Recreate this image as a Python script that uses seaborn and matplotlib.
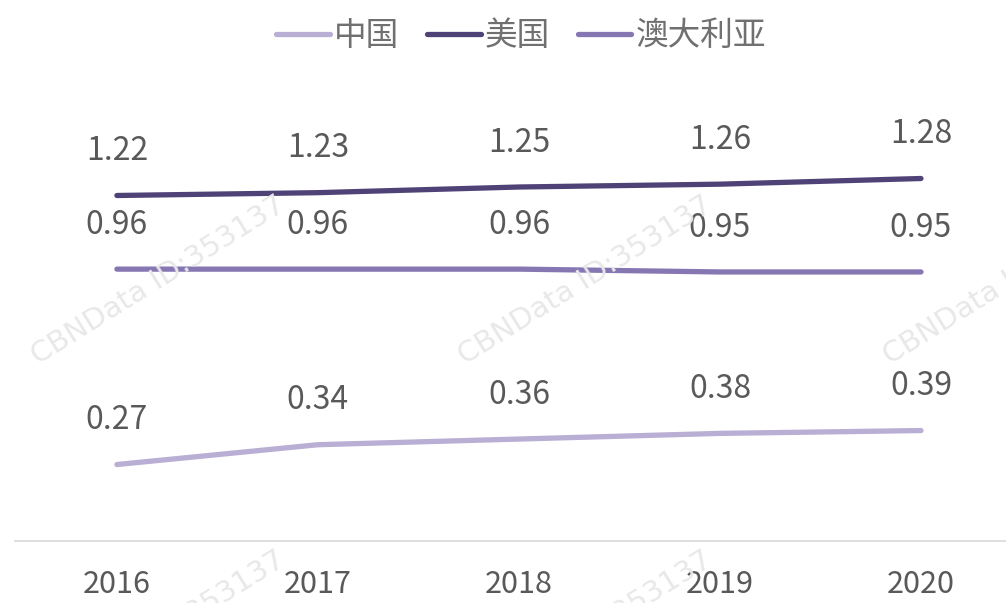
import pandas as pd
import matplotlib
matplotlib.use('Agg')
import matplotlib.pyplot as plt
import seaborn as sns

# data
years = [2016, 2017, 2018, 2019, 2020]
china = [0.27, 0.34, 0.36, 0.38, 0.39]
usa = [1.22, 1.23, 1.25, 1.26, 1.28]
australia = [0.96, 0.96, 0.96, 0.95, 0.95]
series_names = ['中国', '美国', '澳大利亚']
colors = ['#b9aed3', '#4f4277', '#8677b3']

sns.set_style('white')
plt.rcParams['font.family'] = ['Noto Sans CJK SC', 'DejaVu Sans']

df = pd.DataFrame({
    'year': years * 3,
    'value': china + usa + australia,
    'country': [series_names[0]] * 5 + [series_names[1]] * 5 + [series_names[2]] * 5,
})

fig = plt.figure(figsize=(10.06, 6.03), dpi=100)
ax = fig.add_axes([15 / 1006, 62 / 603, 991 / 1006, 541 / 603])

# watermark
for cx in [158, 585, 1010]:
    for cy in [280, 635]:
        fig.text(cx / 1006, 1 - cy / 603, 'CBNData ID:353137', rotation=32,
                 ha='center', va='center', fontsize=21, color='#e8e8e8',
                 family=['DejaVu Sans'], zorder=0)

sns.lineplot(data=df, x='year', y='value', hue='country', hue_order=series_names,
             palette=colors, linewidth=3.8, ax=ax, legend=True,
             solid_capstyle='round')

for vals in [china, usa, australia]:
    for x, v in zip(years, vals):
        ax.annotate(f'{v:.2f}', (x, v), xytext=(0, 32), textcoords='offset points',
                    ha='center', va='center', fontsize=23, color='#595959')

ax.set_xlim(2016 - 0.507, 2020 + 0.423)
ax.set_ylim(0, 541 / 283.2)
ax.set_xticks(years)
ax.set_xticklabels([str(y) for y in years])
ax.set_yticks([])
ax.set_xlabel('')
ax.set_ylabel('')
ax.tick_params(axis='x', length=0, pad=20, labelsize=22, labelcolor='#595959')
for s in ['top', 'right', 'left']:
    ax.spines[s].set_visible(False)
ax.spines['bottom'].set_color('#d9d9d9')
ax.spines['bottom'].set_linewidth(1.2)
ax.patch.set_alpha(0)

handles, labels = ax.get_legend_handles_labels()
ax.legend_.remove()
leg = fig.legend(handles, labels, loc='upper center', bbox_to_anchor=(521 / 1006, 1.015),
                 ncol=3, frameon=False, fontsize=23.5, handlelength=1.65,
                 handletextpad=0.12, columnspacing=0.85)
for t in leg.get_texts():
    t.set_color('#707070')

fig.savefig('out.png', dpi=100)
